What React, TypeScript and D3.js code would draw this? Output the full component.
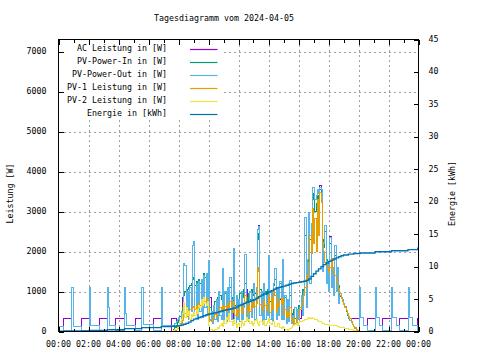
import React from "react";
import * as d3 from "d3";

// ---------- axis / tick data ----------
const xTickHours = [0, 2, 4, 6, 8, 10, 12, 14, 16, 18, 20, 22, 24];
const xTickLabels = ["00:00", "02:00", "04:00", "06:00", "08:00", "10:00", "12:00", "14:00", "16:00", "18:00", "20:00", "22:00", "00:00"];
const xMinorHours = [1, 3, 5, 7, 9, 11, 13, 15, 17, 19, 21, 23];
const yTicks = [0, 1000, 2000, 3000, 4000, 5000, 6000, 7000];
const y2Ticks = [0, 5, 10, 15, 20, 25, 30, 35, 40, 45];

const seriesNames = ["AC Leistung in [W]", "PV-Power-In in [W]", "PV-Power-Out in [W]", "PV-1 Leistung in [W]", "PV-2 Leistung in [W]", "Energie in [kWh]"];
const seriesColors = ["#9400d3", "#009e73", "#56b4e9", "#e69f00", "#f0e442", "#0072b2"];

// ---------- AC Leistung (W) ----------
const acAmTimes = [0, 0.33, 0.85, 1.52, 2.07, 2.7, 3.28, 3.8, 4.4, 5.13, 5.52, 6.3, 6.85];
const acAmValues = [10, 330, 10, 330, 10, 330, 10, 330, 10, 330, 10, 330, 10];
// 5-minute values from 07:30 to 19:25
const acDay = [
  330, 330, 330, 330, 260, 300,
  350, 200, 500, 860, 1700, 1650, 400, 1000, 300, 1100, 500, 2150,
  2250, 400, 1200, 300, 1250, 500, 1300, 350, 1400, 600, 1450, 400,
  1775, 850, 500, 200, 650, 300, 800, 250, 1000, 400, 300, 1570,
  300, 1000, 250, 1100, 400, 1360, 330, 330, 2070, 200, 900, 300,
  800, 250, 1000, 300, 600, 1925, 1050, 700, 250, 1000, 350, 950,
  1200, 300, 1100, 2550, 2650, 400, 1000, 250, 1200, 300, 900, 400,
  1900, 300, 1000, 250, 1200, 1575, 300, 1100, 400, 800, 300, 1790,
  300, 900, 200, 800, 250, 1275, 200, 400, 330, 330, 330, 330,
  330, 330, 900, 400, 1000, 2860, 600, 1800, 2980, 1200, 2700, 3600,
  3600, 3300, 3400, 3550, 3450, 3650, 3550, 1500, 2200, 2650, 1200, 1750,
  1000, 2380, 1100, 1600, 900, 2150, 1000, 1610, 700, 900, 860, 800,
  700, 620, 520, 430, 340, 280,
];
const acPmTimes = [19.5, 20.05, 20.6, 21.1, 21.6, 22.2, 22.7, 23.3, 23.9, 24];
const acPmValues = [330, 10, 330, 10, 330, 10, 330, 10, 330, 330];

// ---------- PV-Power-In (W), 5-minute values 07:30 - 20:00 ----------
const pvInDay = [
  0, 10, 40, 90, 150, 220,
  300, 380, 480, 600, 900, 1000, 850, 1050, 1100, 1150, 1200, 1300,
  1350, 1150, 1250, 1100, 1300, 1200, 1250, 1300, 1450, 1350, 1400, 1450,
  1100, 600, 450, 500, 600, 750, 650, 850, 950, 900, 800, 1000,
  850, 950, 800, 1050, 950, 1100, 850, 750, 1100, 650, 850, 580,
  750, 950, 700, 850, 1050, 1200, 850, 650, 950, 800, 1050, 900,
  1150, 950, 1050, 2300, 2450, 1050, 950, 850, 1150, 1000, 850, 1050,
  1400, 750, 950, 850, 1150, 1300, 750, 1050, 950, 1200, 1050, 1300,
  650, 850, 550, 750, 600, 900, 450, 380, 550, 330, 420, 500,
  650, 560, 850, 1050, 950, 2400, 1800, 1700, 2600, 2300, 2600, 3300,
  3450, 3000, 3200, 3400, 3300, 3550, 3400, 2300, 2100, 2500, 1800, 1700,
  1550, 2200, 1650, 1550, 1450, 1900, 1350, 1500, 1150, 870, 830, 770,
  680, 600, 500, 410, 330, 270, 220, 170, 120, 80, 50, 20,
  0,
];

// ---------- PV-Power-Out (W) ----------
const pvOutAmTimes = [0, 0.33, 0.85, 0.97, 1.52, 2.05, 2.15, 2.7, 3.25, 3.33, 3.42, 3.8, 4.4, 4.48, 4.56, 5.13, 5.55, 5.65, 6.3, 6.85, 6.95];
const pvOutAmValues = [120, 15, 1100, 130, 15, 1100, 150, 15, 1100, 600, 160, 15, 1100, 450, 160, 15, 1100, 170, 15, 1100, 150];
// 5-minute values 07:30 - 20:00
const pvOutDay = [
  150, 150, 160, 200, 260, 300,
  350, 200, 500, 300, 1700, 1650, 400, 1000, 300, 1100, 500, 2150,
  2250, 400, 1200, 300, 1250, 500, 1300, 350, 1400, 600, 1450, 400,
  1775, 300, 500, 200, 650, 300, 800, 250, 1000, 400, 300, 1570,
  300, 1000, 250, 1100, 400, 1360, 300, 800, 2070, 200, 900, 300,
  800, 250, 1000, 300, 600, 1925, 300, 700, 250, 1000, 350, 950,
  1200, 300, 1100, 2550, 2620, 400, 1000, 250, 1200, 300, 900, 400,
  1900, 300, 1000, 250, 1200, 1575, 300, 1100, 400, 1250, 300, 1790,
  300, 900, 200, 800, 250, 1275, 200, 400, 150, 600, 200, 550,
  300, 600, 900, 400, 1000, 2860, 600, 1800, 2980, 1200, 2700, 3600,
  3600, 3300, 3400, 3550, 3450, 3600, 3550, 1500, 2200, 2650, 1200, 1750,
  1000, 2360, 1100, 1600, 900, 2150, 1000, 1610, 700, 900, 860, 800,
  700, 620, 520, 430, 340, 280, 230, 180, 130, 90, 60, 30,
  20,
];
const pvOutPmTimes = [20.05, 20.13, 20.35, 20.6, 21.1, 21.18, 21.4, 21.6, 22.2, 22.28, 22.5, 22.7, 23.3, 23.38, 23.6, 23.9, 24];
const pvOutPmValues = [1100, 350, 150, 15, 1100, 350, 150, 15, 1100, 350, 150, 15, 1100, 350, 150, 15, 15];

// ---------- PV-1 Leistung (W), 5-minute values 07:30 - 20:40 ----------
const pv1Day = [
  0, 0, 10, 20, 40, 80,
  120, 150, 200, 280, 400, 450, 380, 480, 520, 560, 540, 600,
  620, 560, 640, 580, 700, 650, 720, 680, 760, 740, 820, 800,
  600, 280, 250, 300, 360, 420, 380, 480, 550, 600, 520, 650,
  550, 620, 500, 700, 600, 750, 520, 480, 760, 400, 560, 380,
  500, 650, 450, 560, 700, 900, 560, 420, 650, 500, 720, 600,
  750, 620, 700, 1600, 1500, 680, 600, 520, 780, 650, 520, 700,
  900, 480, 860, 560, 1025, 900, 480, 700, 620, 820, 700, 820,
  420, 560, 360, 480, 380, 600, 300, 220, 340, 190, 260, 320,
  480, 560, 650, 730, 900, 1100, 1400, 1300, 1730, 2400, 1950, 3075,
  2200, 2820, 2000, 3300, 2400, 3480, 3230, 2230, 2000, 1730, 1650, 1600,
  1480, 1600, 1820, 1550, 1450, 1400, 1250, 1150, 1070, 950, 820, 750,
  680, 610, 530, 450, 380, 320, 250, 180, 120, 75, 40, 20,
  15, 12, 10, 8, 6, 5, 4, 2, 0,
];

// ---------- PV-2 Leistung (W), 5-minute values 07:30 - 20:00 ----------
const pv2Day = [
  0, 10, 20, 40, 60, 100,
  150, 250, 300, 450, 730, 350, 600, 400, 500, 300, 420, 380,
  480, 400, 550, 450, 650, 600, 800, 650, 860, 700, 650, 750,
  150, 60, 40, 25, 30, 60, 50, 100, 80, 150, 200, 120,
  275, 200, 350, 300, 440, 250, 250, 150, 300, 200, 100, 180,
  200, 100, 275, 200, 150, 250, 360, 280, 300, 200, 250, 150,
  190, 280, 300, 200, 150, 250, 250, 180, 275, 150, 200, 250,
  320, 200, 180, 250, 250, 120, 120, 200, 200, 100, 70, 120,
  100, 60, 50, 25, 60, 80, 100, 150, 150, 180, 200, 150,
  220, 260, 250, 280, 275, 300, 300, 330, 360, 320, 340, 330,
  320, 310, 300, 280, 260, 240, 220, 200, 190, 180, 175, 170,
  165, 160, 160, 155, 150, 145, 140, 130, 120, 110, 100, 95,
  90, 80, 75, 65, 60, 50, 40, 30, 20, 15, 10, 5,
  0,
];

// ---------- Energie (kWh) ----------
const energyNightTimes = [0, 0.9, 2.05, 3.25, 4.4, 5.55, 6.85, 7.5, 7.75];
const energyNightValues = [0.03, 0.08, 0.15, 0.28, 0.45, 0.6, 0.75, 0.8, 0.85];
// 10-minute values 08:00 - 19:00
const energyDay = [
  0.9, 1.0, 1.12, 1.25, 1.45, 1.68,
  1.9, 2.02, 2.15, 2.3, 2.43, 2.57,
  2.7, 2.78, 2.86, 2.95, 3.05, 3.15,
  3.25, 3.35, 3.42, 3.5, 3.62, 3.8,
  4.0, 4.17, 4.33, 4.5, 4.63, 4.77,
  4.9, 5.12, 5.37, 5.6, 5.77, 5.93,
  6.1, 6.3, 6.5, 6.7, 6.8, 6.9,
  7.0, 7.13, 7.27, 7.4, 7.47, 7.53,
  7.6, 7.66, 7.74, 7.85, 8.1, 8.5,
  8.9, 9.3, 9.65, 10.0, 10.3, 10.55,
  10.8, 11.0, 11.17, 11.35, 11.52, 11.67,
  11.8,
];
const energyEveTimes = [19.33, 19.67, 20.1, 21.1, 22.2, 23.3, 23.95, 24];
const energyEveValues = [11.93, 12.03, 12.1, 12.28, 12.45, 12.62, 12.85, 12.85];

type Pt = [number, number];
const gridPts = (startHour: number, stepMin: number, vals: number[]): Pt[] =>
  vals.map((v, i) => [startHour + (i * stepMin) / 60, v] as Pt);
const pairPts = (ts: number[], vs: number[]): Pt[] => ts.map((t, i) => [t, vs[i]] as Pt);

const FONT = "'DejaVu Sans Mono', 'Liberation Mono', monospace";
const FS = 8.3;

export default function App() {
  const left = 58.5, right = 418.5, top = 39.5, bottom = 331.5;
  const x = d3.scaleLinear().domain([0, 24]).range([left, right]);
  const y = d3.scaleLinear().domain([0, 7300]).range([bottom, top]);
  const y2 = d3.scaleLinear().domain([0, 45]).range([bottom, top]);

  const lineW = d3.line<Pt>().x((d) => x(d[0])).y((d) => y(d[1])).curve(d3.curveStepAfter);
  const lineE = d3.line<Pt>().x((d) => x(d[0])).y((d) => y2(d[1])).curve(d3.curveStepAfter);

  const acPts = [...pairPts(acAmTimes, acAmValues), ...gridPts(7.5, 5, acDay), ...pairPts(acPmTimes, acPmValues)];
  const pvInPts = gridPts(7.5, 5, pvInDay);
  const pvOutPts = [...pairPts(pvOutAmTimes, pvOutAmValues), ...gridPts(7.5, 5, pvOutDay), ...pairPts(pvOutPmTimes, pvOutPmValues)];
  const pv1Pts = gridPts(7.5, 5, pv1Day);
  const pv2Pts = gridPts(7.5, 5, pv2Day);
  const energyPts = [...pairPts(energyNightTimes, energyNightValues), ...gridPts(8, 10, energyDay), ...pairPts(energyEveTimes, energyEveValues)];

  const wSeries = [acPts, pvInPts, pvOutPts, pv1Pts, pv2Pts];

  const legendRows = seriesNames.map((n, i) => ({ name: n, color: seriesColors[i], yy: 49 + i * 13 }));

  return (
    <svg width={480} height={360} viewBox="0 0 480 360" style={{ position: "fixed", left: 0, top: 0, display: "block", background: "#fff" }}>
      <rect x={0} y={0} width={480} height={360} fill="#fff" />
      <defs>
        <clipPath id="plot">
          <rect x={left} y={top} width={right - left} height={bottom - top} />
        </clipPath>
      </defs>
      {/* grid */}
      <g stroke="#a0a0a0" strokeWidth={1} strokeDasharray="2,3" shapeRendering="crispEdges">
        {yTicks.filter((t) => t > 0).map((t) => (
          <line key={"gy" + t} x1={left} x2={right} y1={Math.round(y(t)) + 0.5} y2={Math.round(y(t)) + 0.5} />
        ))}
        {xTickHours.filter((h) => h > 0 && h < 24).map((h) => (
          <line key={"gx" + h} x1={Math.round(x(h)) + 0.5} x2={Math.round(x(h)) + 0.5} y1={top} y2={bottom} />
        ))}
      </g>
      {/* data */}
      <g clipPath="url(#plot)" fill="none" strokeWidth={1}>
        {wSeries.map((pts, i) => (
          <path key={"s" + i} d={lineW(pts) || ""} stroke={seriesColors[i]} shapeRendering="crispEdges" />
        ))}
        <path d={lineE(energyPts) || ""} stroke={seriesColors[5]} strokeWidth={1.4} />
      </g>
      {/* key (opaque) */}
      <rect x={left + 0.5} y={top + 0.5} width={165} height={78} fill="#fff" />
      {legendRows.map((r) => (
        <g key={r.name}>
          <text x={167} y={r.yy + 1.5} textAnchor="end" fontFamily={FONT} fontSize={FS} fill="#000">{r.name}</text>
          <line x1={190} x2={217.5} y1={r.yy + 0.5} y2={r.yy + 0.5} stroke={r.color} strokeWidth={1.2} />
        </g>
      ))}
      {/* border */}
      <rect x={left} y={top} width={right - left} height={bottom - top} fill="none" stroke="#000" strokeWidth={1} shapeRendering="crispEdges" />
      {/* ticks */}
      <g stroke="#000" strokeWidth={1} shapeRendering="crispEdges">
        {yTicks.map((t) => (
          <line key={"ty" + t} x1={left} x2={left + 5} y1={Math.round(y(t)) + 0.5} y2={Math.round(y(t)) + 0.5} />
        ))}
        {y2Ticks.map((t) => (
          <line key={"ty2" + t} x1={right - 5} x2={right} y1={Math.round(y2(t)) + 0.5} y2={Math.round(y2(t)) + 0.5} />
        ))}
        {xTickHours.map((h) => (
          <g key={"tx" + h}>
            <line x1={Math.round(x(h)) + 0.5} x2={Math.round(x(h)) + 0.5} y1={bottom} y2={bottom - 5} />
            <line x1={Math.round(x(h)) + 0.5} x2={Math.round(x(h)) + 0.5} y1={top} y2={top + 5} />
          </g>
        ))}
        {xMinorHours.map((h) => (
          <g key={"mx" + h}>
            <line x1={Math.round(x(h)) + 0.5} x2={Math.round(x(h)) + 0.5} y1={bottom} y2={bottom - 3} />
            <line x1={Math.round(x(h)) + 0.5} x2={Math.round(x(h)) + 0.5} y1={top} y2={top + 3} />
          </g>
        ))}
      </g>
      {/* tick labels */}
      <g fontFamily={FONT} fontSize={FS} fill="#000">
        {yTicks.map((t) => (
          <text key={"ly" + t} x={46.5} y={y(t) + 2.5} textAnchor="end">{t}</text>
        ))}
        {y2Ticks.map((t) => (
          <text key={"ly2" + t} x={428.5} y={y2(t) + 2.5} textAnchor="start">{t}</text>
        ))}
        {xTickHours.map((h, i) => (
          <text key={"lx" + i} x={x(h)} y={346.5} textAnchor="middle">{xTickLabels[i]}</text>
        ))}
        <text x={224} y={21} textAnchor="middle">Tagesdiagramm vom 2024-04-05</text>
        <text transform="translate(12.5,193.5) rotate(-90)" textAnchor="middle">Leistung [W]</text>
        <text transform="translate(455,193.5) rotate(-90)" textAnchor="middle">Energie [kWh]</text>
      </g>
    </svg>
  );
}
